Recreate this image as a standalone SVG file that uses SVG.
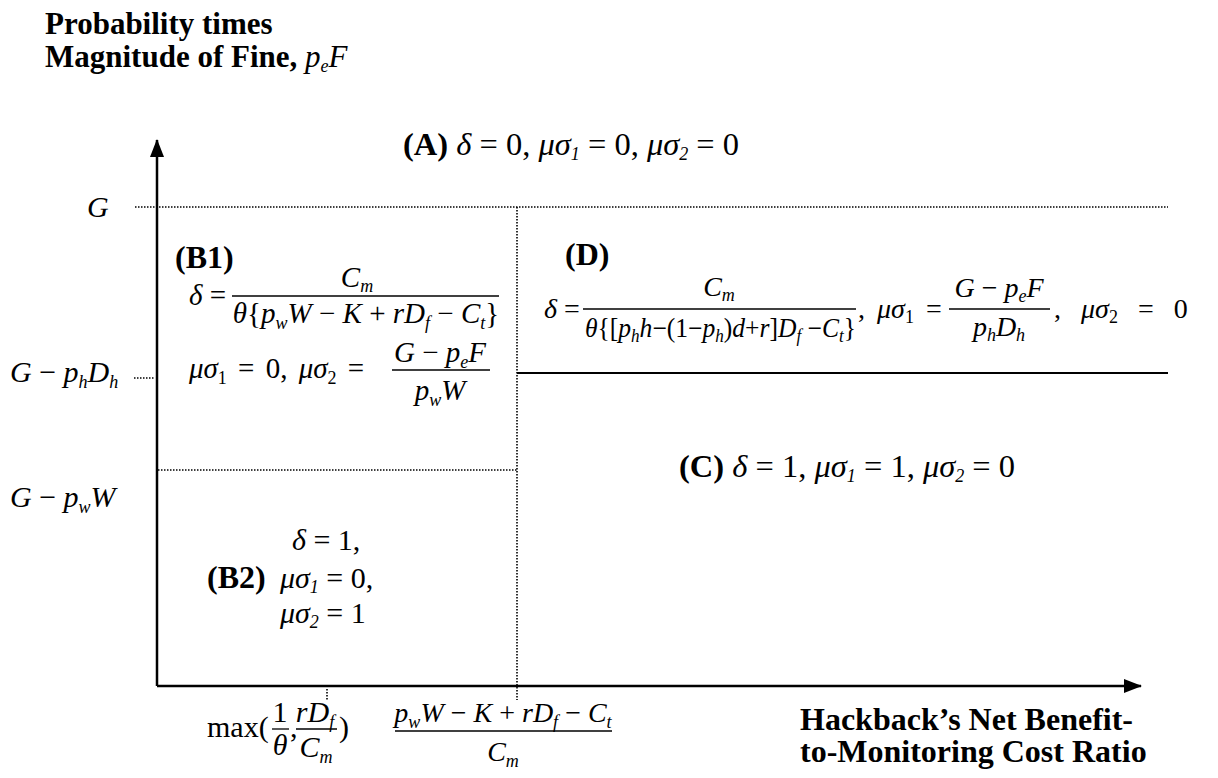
<svg xmlns="http://www.w3.org/2000/svg" width="1218" height="778" viewBox="0 0 1218 778">
<style>
.t{font-family:"Liberation Serif","Times New Roman",serif;fill:#000}
.b{font-weight:bold;font-size:31px}
.b32{font-weight:bold;font-size:32px}
.m{font-size:30px}
.f32{font-size:32.5px}
.f29{font-size:29px}
.f28{font-size:28px}
.f27{font-size:27px}
.i{font-style:italic}
.sub{font-size:18px}
.ax{stroke:#000;stroke-width:2.5;fill:none}
.dot{stroke:#000;stroke-width:1.6;stroke-dasharray:1.5 1.5;fill:none}
.sol{stroke:#000;stroke-width:2;fill:none}
.bar{stroke:#000;stroke-width:1.3}
</style>
<defs>
<marker id="ah" viewBox="0 0 18 14" refX="17" refY="7" markerWidth="18" markerHeight="14" markerUnits="userSpaceOnUse" orient="auto">
<path d="M0,0 L18,7 L0,14 z" fill="#000"/>
</marker>
</defs>
<rect width="1218" height="778" fill="#fff"/>

<g id="connectors">
<line class="ax" x1="157" y1="686" x2="157" y2="140" marker-end="url(#ah)"/>
<line class="ax" x1="157" y1="686" x2="1141" y2="686" marker-end="url(#ah)"/>
<line class="dot" x1="135" y1="207" x2="1168" y2="207"/>
<line class="dot" x1="517" y1="207" x2="517" y2="700"/>
<line class="dot" x1="158" y1="470" x2="517" y2="470"/>
<line class="dot" x1="134" y1="378" x2="155" y2="378"/>
<line class="dot" x1="327" y1="689" x2="327" y2="701"/>
<line class="sol" x1="517" y1="373" x2="1168" y2="373"/>
</g>

<g id="title">
<text class="t b" x="45" y="34">Probability times</text>
<text class="t b" x="45" y="67">Magnitude of Fine, <tspan font-weight="normal" class="i">p</tspan><tspan font-weight="normal" class="i sub" dy="5">e</tspan><tspan font-weight="normal" class="i" dy="-5">F</tspan></text>
</g>

<g id="region-A">
<text class="t f32" x="403" y="155"><tspan font-weight="bold">(A)</tspan>  <tspan class="i">δ</tspan> = 0, <tspan class="i">μσ</tspan><tspan class="i sub" dy="5">1</tspan><tspan dy="-5"> = 0, </tspan><tspan class="i">μσ</tspan><tspan class="i sub" dy="5">2</tspan><tspan dy="-5"> = 0</tspan></text>
</g>

<g id="y-labels">
<text class="t m i" x="87" y="217">G</text>
<text class="t m" x="10" y="382"><tspan class="i">G</tspan> − <tspan class="i">p</tspan><tspan class="i sub" dy="6">h</tspan><tspan class="i" dy="-6">D</tspan><tspan class="i sub" dy="6">h</tspan></text>
<text class="t m" x="10" y="507"><tspan class="i">G</tspan> − <tspan class="i">p</tspan><tspan class="i sub" dy="6">w</tspan><tspan class="i" dy="-6">W</tspan></text>
</g>

<g id="region-B1">
<text class="t b32" x="175" y="268">(B1)</text>
<text class="t f29" x="189" y="305"><tspan class="i">δ</tspan> =</text>
<text class="t f29" x="357" y="287" text-anchor="middle"><tspan class="i">C</tspan><tspan class="i sub" dy="5">m</tspan></text>
<line class="bar" x1="232" y1="296" x2="499" y2="296"/>
<text class="t f29" x="366" y="323" text-anchor="middle"><tspan class="i">θ</tspan>{<tspan class="i">p</tspan><tspan class="i sub" dy="6">w</tspan><tspan class="i" dy="-6">W</tspan> − <tspan class="i">K</tspan> + <tspan class="i">rD</tspan><tspan class="i sub" dy="6">f</tspan><tspan dy="-6"> − </tspan><tspan class="i">C</tspan><tspan class="i sub" dy="6">t</tspan><tspan dy="-6">}</tspan></text>
<text class="t f29" x="189" y="378" word-spacing="4"><tspan class="i">μσ</tspan><tspan class="sub" dy="6">1</tspan><tspan dy="-6"> = 0, </tspan><tspan class="i">μσ</tspan><tspan class="sub" dy="6">2</tspan><tspan dy="-6"> =</tspan></text>
<text class="t f29" x="440" y="362" text-anchor="middle"><tspan class="i">G</tspan> − <tspan class="i">p</tspan><tspan class="i sub" dy="6">e</tspan><tspan class="i" dy="-6">F</tspan></text>
<line class="bar" x1="392" y1="370" x2="490" y2="370"/>
<text class="t f29" x="440" y="400" text-anchor="middle"><tspan class="i">p</tspan><tspan class="i sub" dy="6">w</tspan><tspan class="i" dy="-6">W</tspan></text>
</g>

<g id="region-B2">
<text class="t m" x="292" y="550"><tspan class="i">δ</tspan> = 1,</text>
<text class="t b32" x="207" y="588">(B2)</text>
<text class="t m" x="280" y="588"><tspan class="i">μσ</tspan><tspan class="i sub" dy="5">1</tspan><tspan dy="-5"> = 0,</tspan></text>
<text class="t m" x="280" y="623"><tspan class="i">μσ</tspan><tspan class="i sub" dy="5">2</tspan><tspan dy="-5"> = 1</tspan></text>
</g>

<g id="region-D">
<text class="t b32" x="565" y="265">(D)</text>
<text class="t f28" x="544" y="318"><tspan class="i">δ</tspan> =</text>
<text class="t f28" x="719" y="296" text-anchor="middle"><tspan class="i">C</tspan><tspan class="i sub" dy="5">m</tspan></text>
<line class="bar" x1="583" y1="309" x2="856" y2="309"/>
<text class="t f27" x="585" y="337" textLength="271" lengthAdjust="spacingAndGlyphs"><tspan class="i">θ</tspan>{[<tspan class="i">p</tspan><tspan class="i sub" dy="5">h</tspan><tspan class="i" dy="-5">h</tspan>−(1−<tspan class="i">p</tspan><tspan class="i sub" dy="5">h</tspan><tspan dy="-5">)</tspan><tspan class="i">d</tspan>+<tspan class="i">r</tspan>]<tspan class="i">D</tspan><tspan class="i sub" dy="5">f</tspan><tspan dy="-5"> −</tspan><tspan class="i">C</tspan><tspan class="i sub" dy="5">t</tspan><tspan dy="-5">}</tspan></text>
<text class="t f28" x="858" y="318" word-spacing="5">, <tspan class="i">μσ</tspan><tspan class="sub" dy="5">1</tspan><tspan dy="-5"> =</tspan></text>
<text class="t f28" x="999" y="297" text-anchor="middle"><tspan class="i">G</tspan> − <tspan class="i">p</tspan><tspan class="i sub" dy="5">e</tspan><tspan class="i" dy="-5">F</tspan></text>
<line class="bar" x1="949" y1="309" x2="1050" y2="309"/>
<text class="t f28" x="999" y="336" text-anchor="middle"><tspan class="i">p</tspan><tspan class="i sub" dy="5">h</tspan><tspan class="i" dy="-5">D</tspan><tspan class="i sub" dy="5">h</tspan></text>
<text class="t f28" x="1054" y="318" word-spacing="13">, <tspan class="i">μσ</tspan><tspan class="sub" dy="5">2</tspan><tspan dy="-5"> = 0</tspan></text>
</g>

<g id="region-C">
<text class="t f32" x="679" y="477"><tspan font-weight="bold">(C)</tspan>  <tspan class="i">δ</tspan> = 1, <tspan class="i">μσ</tspan><tspan class="i sub" dy="5">1</tspan><tspan dy="-5"> = 1, </tspan><tspan class="i">μσ</tspan><tspan class="i sub" dy="5">2</tspan><tspan dy="-5"> = 0</tspan></text>
</g>

<g id="x-labels">
<text class="t m" x="207" y="737">max(</text>
<text class="t m" x="280" y="722" text-anchor="middle">1</text>
<line class="bar" x1="272" y1="729" x2="289" y2="729"/>
<text class="t m i" x="280" y="755" text-anchor="middle">θ</text>
<text class="t m" x="290" y="737">,</text>
<text class="t m" x="315" y="722" text-anchor="middle"><tspan class="i">rD</tspan><tspan class="i sub" dy="6">f</tspan></text>
<line class="bar" x1="296" y1="729" x2="337" y2="729"/>
<text class="t m" x="316" y="757" text-anchor="middle"><tspan class="i">C</tspan><tspan class="i sub" dy="6">m</tspan></text>
<text class="t m" x="339" y="737">)</text>
<text class="t f28" x="503" y="722" text-anchor="middle"><tspan class="i">p</tspan><tspan class="i sub" dy="6">w</tspan><tspan class="i" dy="-6">W</tspan> − <tspan class="i">K</tspan> + <tspan class="i">rD</tspan><tspan class="i sub" dy="6">f</tspan><tspan dy="-6"> − </tspan><tspan class="i">C</tspan><tspan class="i sub" dy="6">t</tspan></text>
<line class="bar" x1="395" y1="731" x2="612" y2="731"/>
<text class="t f28" x="503" y="761" text-anchor="middle"><tspan class="i">C</tspan><tspan class="i sub" dy="6">m</tspan></text>
<text class="t b32" x="800" y="730">Hackback’s Net Benefit-</text>
<text class="t b32" x="800" y="762">to-Monitoring Cost Ratio</text>
</g>
</svg>
